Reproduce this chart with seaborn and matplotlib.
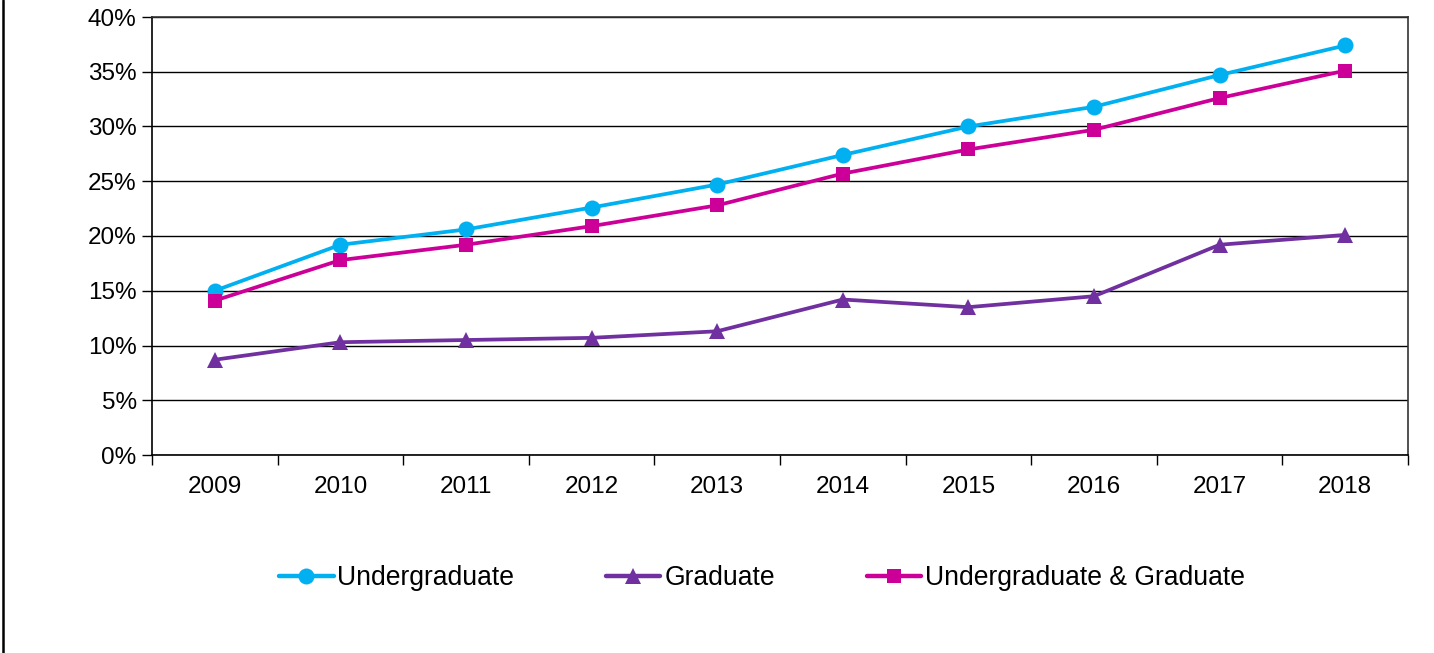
import matplotlib
matplotlib.use("Agg")
import matplotlib.pyplot as plt
import seaborn as sns
import numpy as np
from matplotlib.lines import Line2D
from matplotlib.ticker import FuncFormatter, FixedLocator

years = ["2009", "2010", "2011", "2012", "2013", "2014", "2015", "2016", "2017", "2018"]
undergrad = [15.0, 19.2, 20.6, 22.6, 24.7, 27.4, 30.0, 31.8, 34.7, 37.4]
graduate = [8.7, 10.3, 10.5, 10.7, 11.3, 14.2, 13.5, 14.5, 19.2, 20.1]
combined = [14.1, 17.8, 19.2, 20.9, 22.8, 25.7, 27.9, 29.7, 32.6, 35.1]
yticks = [0, 5, 10, 15, 20, 25, 30, 35, 40]

sns.set_style("white")
plt.rcParams['font.family'] = ['Liberation Sans', 'DejaVu Sans']
plt.rcParams['text.color'] = 'black'
plt.rcParams['xtick.color'] = 'black'
plt.rcParams['ytick.color'] = 'black'

fig = plt.figure(figsize=(14.34, 6.53), dpi=100)
ax = fig.add_axes([152/1434, (653-455)/653, (1408-152)/1434, (455-17)/653])

pos = np.arange(len(years))
series = [
    ("Undergraduate", undergrad, "#00B0F0", "o", 11.5),
    ("Graduate", graduate, "#7030A0", "^", 11),
    ("Undergraduate & Graduate", combined, "#CC0099", "s", 10.6),
]
for name, vals, col, mk, ms in series:
    sns.lineplot(x=pos, y=vals, ax=ax, color=col, marker=mk, markersize=ms,
                 markeredgewidth=0, linewidth=2.7, label=name, zorder=3)

ax.set_xlim(-0.5, len(years) - 0.5)
ax.set_ylim(0, 40)
ax.yaxis.set_major_locator(FixedLocator(yticks))
ax.yaxis.set_major_formatter(FuncFormatter(lambda v, p: f"{int(v)}%"))
ax.grid(axis='y', color='black', linewidth=1.0)
ax.set_axisbelow(True)

ax.set_xticks(pos)
ax.set_xticklabels(years)
ax.set_xticks(np.arange(-0.5, len(years)), minor=True)
ax.tick_params(axis='x', which='major', length=0, pad=15, labelsize=17.5, labelcolor='black', bottom=True)
ax.tick_params(axis='x', which='minor', length=7, width=1, color='black', direction='out', bottom=True)
ax.tick_params(axis='y', which='major', length=7, width=1, color='black', direction='out',
               labelsize=17.5, pad=4, left=True, labelcolor='black')

for s in ax.spines.values():
    s.set_color('#333333')
    s.set_linewidth(1.2)
ax.spines['left'].set_color('black')
ax.spines['bottom'].set_color('black')

ax.legend_.remove()
handles = [Line2D([0], [0], color=c, marker=m, markersize=ms, markeredgewidth=0, linewidth=3.2)
           for _, _, c, m, ms in series]
fig.legend(handles, [s[0] for s in series], loc='center', bbox_to_anchor=(762/1434, 1 - 578/653),
           ncol=3, frameon=False, fontsize=19.1, handlelength=2.05, handletextpad=0.15,
           columnspacing=3.45)

fig.add_artist(Line2D([2.5/1434, 2.5/1434], [0, 1], color='black', linewidth=1.8,
                      transform=fig.transFigure))

fig.savefig("out.png", dpi=100, facecolor='white')
